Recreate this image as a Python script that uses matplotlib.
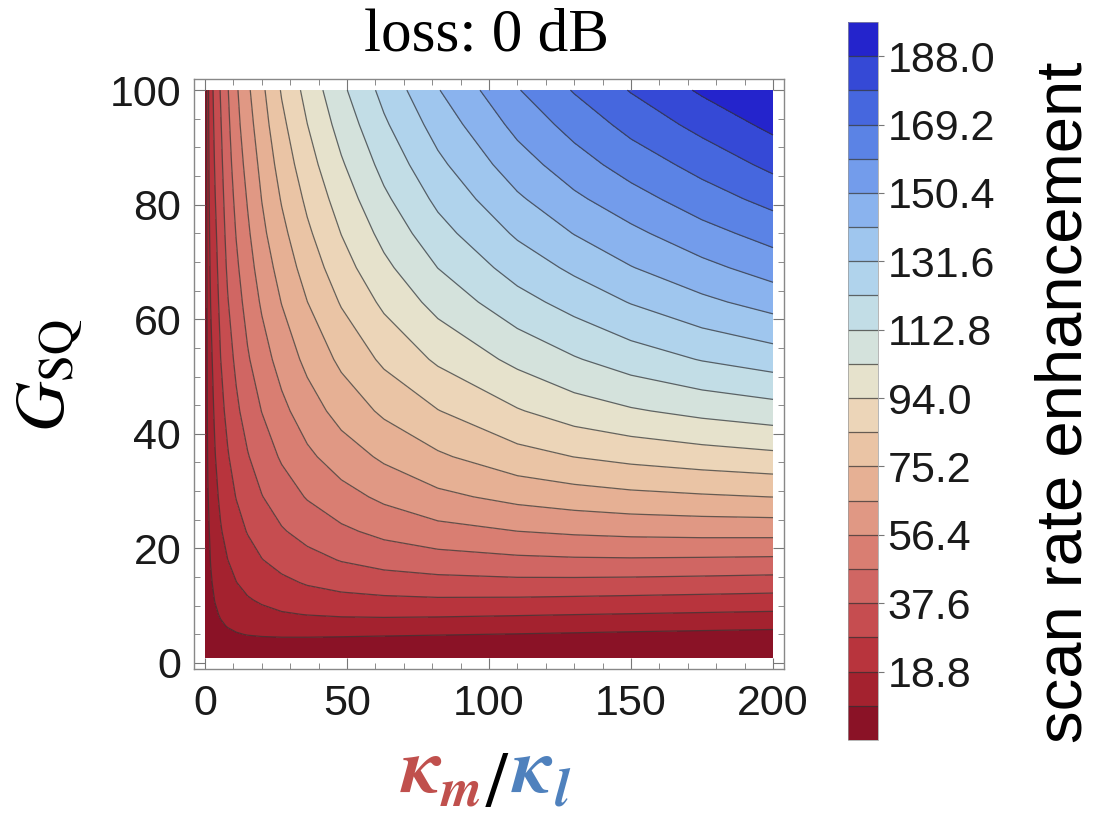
import matplotlib
matplotlib.use("Agg")
import matplotlib.pyplot as plt
import numpy as np
from matplotlib.ticker import MultipleLocator

plt.rcParams['font.family'] = ['Liberation Sans', 'DejaVu Sans']
plt.rcParams['mathtext.fontset'] = 'stix'

# values: kappa_m/kappa_l (columns) and G_SQ (rows)
ratio = [0, 1, 2, 3.5, 5.5, 8, 11, 15, 20, 27, 36, 48, 63, 82, 110, 130, 150, 175, 200]
gain = [1, 2.5, 4, 5, 6.5, 8.5, 11, 14, 18, 23, 29, 36, 44, 53, 63, 69, 75, 81, 87, 94, 100]
enh = [
    [0, 0, 0, 0, 0, 0, 0, 0, 0, 0, 0, 0, 0, 0, 0, 0, 0, 0, 0],
    [0, 1.94, 2.59, 3.16, 3.62, 3.89, 4.04, 4.05, 3.95, 3.77, 3.57, 3.24, 2.85, 2.53, 2.16, 1.95, 1.73, 1.58, 1.43],
    [0, 2.83, 3.87, 4.92, 5.81, 6.60, 7.24, 7.69, 8.00, 8.13, 8.00, 7.69, 7.33, 6.87, 6.09, 5.64, 5.31, 4.89, 4.5],
    [0, 3.30, 4.54, 5.81, 6.98, 7.97, 8.88, 9.70, 10.26, 10.69, 10.84, 10.66, 10.28, 9.82, 9.13, 8.59, 8.04, 7.48, 7.08],
    [0, 3.87, 5.40, 6.94, 8.45, 9.80, 10.96, 12.18, 13.25, 14.05, 14.64, 14.9, 14.73, 14.27, 13.57, 13.1, 12.59, 11.9, 11.2],
    [0, 4.55, 6.41, 8.24, 10.1, 11.85, 13.41, 14.95, 16.49, 18.02, 19.09, 19.91, 20.33, 20.16, 19.5, 18.98, 18.5, 17.9, 17.3],
    [0, 5.24, 7.37, 9.65, 11.83, 13.97, 16.01, 18.04, 19.93, 22.08, 24.03, 25.45, 26.5, 27.1, 26.86, 26.4, 25.91, 25.3, 24.67],
    [0, 5.92, 8.48, 11.15, 13.69, 16.16, 18.61, 21.22, 23.67, 26.27, 28.95, 31.42, 33.14, 34.46, 35.23, 35.1, 34.79, 34.2, 33.5],
    [0, 6.73, 9.75, 12.69, 15.82, 18.75, 21.62, 24.76, 27.94, 31.3, 34.6, 38.1, 41.1, 43.3, 45.2, 45.9, 46.1, 45.8, 45.4],
    [0, 7.74, 10.95, 14.59, 18.15, 21.6, 24.97, 28.67, 32.45, 36.76, 40.94, 45.3, 49.5, 53.3, 56.4, 57.9, 58.9, 59.5, 59.6],
    [0, 8.9, 12.24, 16.5, 20.47, 24.64, 28.48, 32.73, 37.27, 42.37, 47.65, 53.0, 58.3, 63.6, 68.5, 70.9, 72.7, 74.1, 75.3],
    [0, 10.3, 13.65, 18.34, 23.1, 27.5, 32.1, 37.0, 42.1, 48.1, 54.5, 61.0, 67.4, 73.8, 81.2, 84.7, 87.3, 89.7, 91.7],
    [0, 11.5, 15.3, 20.2, 25.6, 30.6, 35.9, 41.4, 47.2, 54.0, 61.3, 69.3, 76.9, 84.3, 93.3, 98.7, 102.4, 106.0, 108.8],
    [0, 12.4, 17.0, 22.0, 28.1, 33.9, 39.4, 46.0, 52.4, 60.0, 68.2, 77.2, 86.4, 95.5, 105.8, 112.0, 117.4, 122.7, 126.7],
    [0, 13.5, 19.0, 24.1, 30.5, 37.1, 43.2, 50.3, 57.6, 66.1, 75.1, 85.4, 95.9, 106.6, 118.8, 125.7, 132.1, 138.9, 144.7],
    [0, 14.2, 20.2, 25.3, 31.8, 39.0, 45.4, 52.6, 60.6, 69.5, 79.1, 90.1, 101.2, 112.9, 126.1, 133.5, 140.6, 147.8, 154.6],
    [0, 14.8, 21.4, 26.4, 33.1, 40.5, 47.4, 54.9, 63.6, 72.7, 82.9, 94.2, 106.2, 118.8, 133.0, 141.3, 148.2, 156.5, 163.5],
    [0, 15.4, 22.3, 27.7, 34.3, 41.9, 49.3, 57.1, 66.0, 75.9, 86.5, 98.3, 111.0, 124.3, 139.6, 148.6, 156.1, 164.9, 172.2],
    [0, 16.1, 23.0, 28.8, 35.5, 43.4, 51.3, 59.4, 68.3, 79.0, 90.1, 102.3, 115.7, 129.5, 146.1, 155.6, 163.9, 172.4, 181.0],
    [0, 16.6, 23.7, 30.1, 36.9, 45.0, 53.5, 62.0, 71.1, 82.4, 93.9, 107.0, 120.8, 135.4, 153.2, 163.3, 172.2, 181.6, 190.5],
    [0, 16.9, 24.2, 31.3, 38.2, 46.4, 55.0, 64.1, 73.2, 85.4, 97.1, 110.8, 125.0, 140.5, 159.2, 169.9, 179.2, 189.4, 197.0],
]
levels = [round(9.4 * k, 1) for k in range(22)]
cbar_ticks = [18.8, 37.6, 56.4, 75.2, 94.0, 112.8, 131.6, 150.4, 169.2, 188.0]
band_colors = ['#8a1226', '#a4222f', '#b8343d', '#c64d50', '#d06663', '#d97e72',
               '#e09884', '#e6b094', '#eac4a5', '#ecd5b8', '#e6e2cc', '#d4e2dc',
               '#c2dde6', '#b0d3ec', '#9fc6ee', '#8ab3ee', '#739ceb', '#5b83e5',
               '#4667de', '#3549d6', '#2424cc']

fig = plt.figure(figsize=(10.99, 8.23), dpi=100)
ax = fig.add_axes([0.1762, 0.1875, 0.5375, 0.7169])

X, Y = np.meshgrid(ratio, gain)
Z = np.array(enh)
cf = ax.contourf(X, Y, Z, levels=levels, colors=band_colors)
cl = ax.contour(X, Y, Z, levels=levels[1:-1], colors='#333333', linewidths=0.9, alpha=0.72)

ax.set_xlim(-4, 204)
ax.set_ylim(-1, 102)
ax.xaxis.set_major_locator(MultipleLocator(50))
ax.xaxis.set_minor_locator(MultipleLocator(10))
ax.yaxis.set_major_locator(MultipleLocator(20))
ax.yaxis.set_minor_locator(MultipleLocator(5))
ax.tick_params(which='both', direction='in', top=True, right=True, color='#777777')
ax.tick_params(which='major', length=8, labelsize=31, labelcolor='#1a1a1a')
ax.tick_params(axis='x', which='major', pad=11)
ax.tick_params(axis='y', which='major', pad=9)
ax.tick_params(which='minor', length=4)
for s in ax.spines.values():
    s.set_color('#888888')
    s.set_linewidth(1.0)

cax = fig.add_axes([0.7716, 0.1009, 0.0273, 0.8724])
cb = fig.colorbar(cf, cax=cax, ticks=cbar_ticks, format='%.1f')
cb.add_lines(cl)
cb.outline.set_linewidth(0.5)
cb.outline.set_edgecolor('#999999')
cax.tick_params(labelsize=31, length=4, pad=3, color='#777777', labelcolor='#1a1a1a')

fig.text(1064 / 1099, 1 - 402 / 823, 'scan rate enhancement', rotation=90,
         ha='center', va='center', fontsize=47)
fig.text(487 / 1099, 1 - 36 / 823, 'loss: 0 dB', ha='center', va='center',
         fontsize=44, family='Liberation Serif')
fig.text(50 / 1099, 1 - 375 / 823, r'$G_{\mathrm{SQ}}$', rotation=90,
         ha='center', va='center', fontsize=50)

# x label assembled from coloured pieces
red, blue = '#c0504d', '#4f81bd'
kw = dict(family='STIXGeneral', weight='bold', style='italic', va='baseline')
fig.text(402 / 1099, 1 - 792 / 823, '\u03ba', color=red, fontsize=56, **kw)
fig.text(441 / 1099, 1 - 806 / 823, 'm', color=red, fontsize=38, **kw)
fig.text(486 / 1099, 1 - 806 / 823, '/', color='black', fontsize=56,
         family='STIXGeneral', va='baseline')
fig.text(513 / 1099, 1 - 792 / 823, '\u03ba', color=blue, fontsize=56, **kw)
fig.text(555 / 1099, 1 - 806 / 823, 'l', color=blue, fontsize=38, **kw)

fig.savefig('out.png', dpi=100)
